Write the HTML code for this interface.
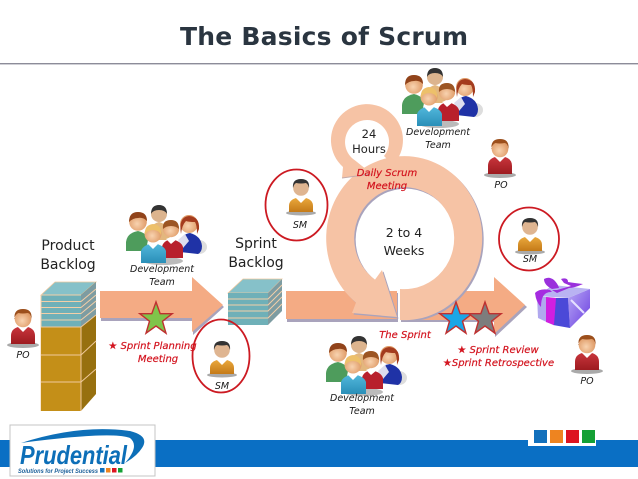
<!DOCTYPE html>
<html><head><meta charset="utf-8"><style>
html,body{margin:0;padding:0;background:#fff}
svg{display:block}
text{font-family:"DejaVu Sans","Liberation Sans",sans-serif}
.k{font-size:14px;fill:#222;text-anchor:middle}
.i{font-size:9.500px;font-style:italic;fill:#1a1a1a;text-anchor:middle}
.r{font-size:10px;font-style:italic;fill:#d3141f;stroke:#d3141f;stroke-width:.2px;text-anchor:middle}
</style></head><body>
<svg width="638" height="479" viewBox="0 0 638 479" xmlns="http://www.w3.org/2000/svg">
<defs>
<radialGradient id="sk" cx=".45" cy=".6" r=".7"><stop offset="0" stop-color="#f8d3b0"/><stop offset="1" stop-color="#d98d55"/></radialGradient>
<linearGradient id="rd" x1="0" y1="0" x2="0" y2="1"><stop offset="0" stop-color="#c8353c"/><stop offset="1" stop-color="#9d1b20"/></linearGradient>
<linearGradient id="og" x1="0" y1="0" x2="0" y2="1"><stop offset="0" stop-color="#eaa83c"/><stop offset="1" stop-color="#c47a18"/></linearGradient>
<linearGradient id="gf" x1="0" y1="0" x2="1" y2="1"><stop offset="0" stop-color="#b9a8f5"/><stop offset="1" stop-color="#6a3fe0"/></linearGradient>
<linearGradient id="tm" x1="0" y1="0" x2="0" y2="1"><stop offset="0" stop-color="#53b9dd"/><stop offset="1" stop-color="#2a8fb8"/></linearGradient>
<g id="po">
<ellipse cx="23" cy="345" rx="16" ry="3" fill="#aaa"/>
<path d="M11 344v-8q0-7 7-9l5 4 5-4q7 2 7 9v8z" fill="url(#rd)"/>
<path d="M18 327l5 5 5-5-5-2z" fill="#fff"/>
<circle cx="23" cy="319" r="8.300" fill="url(#sk)"/>
<path d="M14.500 319q-1-10 8.500-10 9.500 0 8.500 10-1-6-4-6-5 1-9 0-3 1-4.500 6z" fill="#9c4f1c"/>
</g>
<g id="sm">
<ellipse cx="222" cy="375" rx="15" ry="2.500" fill="#aaa"/>
<path d="M210 374v-6q0-6 7-8l5 4 5-4q7 2 7 8v6z" fill="url(#og)"/>
<path d="M217 360l5 5 5-5-5-2z" fill="#fff"/>
<circle cx="222" cy="350" r="7.800" fill="#dfb591"/>
<path d="M214 350q-1-9 8-9 9 0 8 9-1-4-3-5-5 1-10 0-2 1-3 5z" fill="#333"/>
</g>
<g id="team">
<ellipse cx="163" cy="261" rx="20" ry="4" fill="#bbb"/>
<ellipse cx="199" cy="247" rx="8" ry="7" fill="#ddd"/>
<circle cx="159" cy="214" r="8" fill="#dcb48e"/>
<path d="M151 214q0-9 8-9 8 0 8 9-2-4-8-4-6 0-8 4z" fill="#333"/>
<path d="M148 240q1-16 11-18 10 2 11 18z" fill="#e3b77e"/>
<path d="M126 251v-9q1-9 12-11 9 2 10 9l-2 11z" fill="#4e9c5c"/>
<circle cx="138" cy="222" r="8.800" fill="url(#sk)"/>
<path d="M129 222q0-10 9-10 9 0 9 9-4-4-9-3-5 0-9 4z" fill="#91431a"/>
<path d="M180 252v-10q2-8 10-9 11 3 12 13 0 6-4 8z" fill="#1f32a6"/>
<path d="M178 240l7-6 4 7-6 7z" fill="#dde"/>
<circle cx="189" cy="224" r="9" fill="url(#sk)"/>
<path d="M181 234q-3-17 8-18 11 1 10 13l-2 5q0-9-2-12-6 0-9-1-4 4-5 13z" fill="#a43c1e"/>
<path d="M162 258v-11q1-6 9-8 10 2 12 8v11z" fill="#b8202c"/>
<path d="M166 239l5 5 6-5-6-2z" fill="#fff"/>
<circle cx="171" cy="229" r="8.200" fill="url(#sk)"/>
<path d="M163 229q-1-9 8-9 8 0 8 9-3-3-8-3-5 0-8 3z" fill="#9c5523"/>
<path d="M141 263v-12q2-6 12-8 11 2 13 8v12z" fill="url(#tm)"/>
<path d="M147 243l6 6 6-6-6-2z" fill="#fff"/>
<circle cx="153" cy="234" r="8.500" fill="url(#sk)"/>
<path d="M145 235q-1-10 8-11 9 1 8 11-2-5-8-5-6 0-8 5z" fill="#edc06a"/>
</g>
<g id="st"><polygon points="0,-17 4.200,-5.300 16.200,-5.300 6.500,2.200 10,14.200 0,7 -10,14.200 -6.500,2.200 -16.200,-5.300 -4.200,-5.300" stroke="#bf3030" stroke-width="1.400"/></g>
</defs>

<text x="324" y="45" font-size="25" font-weight="bold" fill="#2a3540" text-anchor="middle" textLength="288" lengthAdjust="spacing">The Basics of Scrum</text>
<rect x="0" y="63" width="638" height="1.400" fill="#8c8c99"/>

<!-- arrow 1 -->
<polygon points="101,293 193,293 193,279 224,307 193,335 193,321 101,321" fill="#a9a3bc"/>
<polygon points="100,291 192,291 192,277 223,305 192,332 192,318 100,318" fill="#f4ab84"/>

<!-- arrow 2 -->
<polygon points="287,293 398,293 398,322 287,322" fill="#a9a3bc"/>
<rect x="286" y="291" width="111" height="28" fill="#f4ab84"/>
<polygon points="401,293 495,293 495,279 527,307 495,337 495,322 401,322" fill="#a9a3bc"/>
<polygon points="400,291 494,291 494,277 525,305 494,334 494,320 400,320" fill="#f4ab84"/>

<!-- big ring -->
<path id="bigr" d="M400 320A78 82 0 1 0 356 302.600L352 313 397 317 382 270 375 279.600A50 51 0 1 1 400 289z" fill="#a9a3bc" transform="translate(1.500,1.500)"/>
<path d="M400 320A78 82 0 1 0 356 302.600L352 313 397 317 382 270 375 279.600A50 51 0 1 1 400 289z" fill="#f6c3a5"/>

<!-- small ring -->
<path d="M393 165A36 36 0 1 0 343 167L342 178 372 174 355 160.400A22 22 0 1 1 384 156z" fill="#f6c3a5"/>
<path d="M342 178L372 174" stroke="#c4abab" stroke-width="1" fill="none"/>

<!-- product backlog -->
<polygon points="41,295 55,282 96,282 81,295" fill="#86c1c9" stroke="#f0c79d" stroke-width=".8"/>
<polygon points="81,295 96,282 96,394 81,411" fill="#97700f"/>
<polygon points="81,295 96,282 96,315 81,327" fill="#7d9ca2"/>
<rect x="41" y="295" width="40" height="32" fill="#6fb0b8"/>
<g stroke="#f3cfa8" stroke-width="1" fill="none">
<path d="M41 301.500H81L96 289M41 307.500H81L96 295M41 313.500H81L96 301M41 320H81L96 308M41 295H81M41 295V411"/>
</g>
<rect x="41" y="327" width="40" height="84" fill="#c48f18"/>
<g stroke="#f0c99b" stroke-width="1" fill="none"><path d="M41 327H81V411M41 355H81L96 341M41 382H81L96 369M81 327L96 315"/></g>

<!-- sprint backlog -->
<polygon points="228,293 243,279 282,279 268,293" fill="#86c1c9" stroke="#f0c79d" stroke-width=".8"/>
<polygon points="268,293 282,279 282,311 268,325" fill="#7d9ca2"/>
<rect x="228" y="293" width="40" height="32" fill="#6fb0b8"/>
<g stroke="#f3cfa8" stroke-width="1" fill="none"><path d="M228 299H268L282 285M228 305H268L282 291M228 311H268L282 297M228 318H268L282 304"/></g>

<!-- stars -->
<use href="#st" x="156" y="319" fill="#7fc44a"/>
<use href="#st" x="456" y="319" fill="#1aa6e6"/>
<use href="#st" x="485" y="319" fill="#7d7d7d"/>

<!-- teams -->
<use href="#team"/>
<use href="#team" x="276" y="-137"/>
<use href="#team" x="200" y="131"/>

<!-- PO -->
<use href="#po"/>
<use href="#po" x="477" y="-170"/>
<use href="#po" x="564" y="26"/>

<!-- SM -->
<use href="#sm"/>
<use href="#sm" x="79" y="-162"/>
<use href="#sm" x="308" y="-123"/>
<ellipse cx="221" cy="356" rx="28.500" ry="36.500" fill="none" stroke="#cc1a22" stroke-width="1.800"/>
<ellipse cx="296.500" cy="205" rx="31" ry="35.500" fill="none" stroke="#cc1a22" stroke-width="1.800"/>
<ellipse cx="529" cy="239" rx="30" ry="31.500" fill="none" stroke="#cc1a22" stroke-width="1.800"/>

<!-- gift -->
<polygon points="537,296 555,298 553,325 538,318" fill="#b0a8ee"/>
<polygon points="568,298 590,289 590,308 570,328" fill="url(#gf)"/>
<polygon points="555,298 568,298 570,328 553,325" fill="#4b49d8"/>
<polygon points="546,297 556,298 554,325 546,322" fill="#d01fe0"/>
<polygon points="537,296 553,285 590,289 568,298" fill="#b9b3f2"/>
<path d="M571 300l13 13" stroke="#e5e0ff" stroke-width="2"/>
<path d="M552 292Q541 291 541 307 536 302 535 293 540 288 550 290z" fill="#a52ce0"/>
<path d="M552 289Q544 285 544 279 549 276 554 280 558 284 559 288zM552 290l5 0 14-4 -7-3 -3-4q7-2 7 3 6 1 15 2-9 4-14 4l-12 5z" fill="#9a30dc"/>

<!-- black text -->
<text class="k" x="68" y="250">Product</text>
<text class="k" x="68" y="269">Backlog</text>
<text class="k" x="256" y="248">Sprint</text>
<text class="k" x="256" y="267">Backlog</text>
<text class="k" style="font-size:11.500px" x="369" y="138">24</text>
<text class="k" style="font-size:11.500px" x="369" y="153">Hours</text>
<text class="k" style="font-size:12.500px" x="404" y="237">2 to 4</text>
<text class="k" style="font-size:12.500px" x="404" y="255">Weeks</text>
<text class="i" x="162" y="272">Development</text><text class="i" x="162" y="285">Team</text>
<text class="i" x="438" y="135">Development</text><text class="i" x="438" y="148">Team</text>
<text class="i" x="362" y="401">Development</text><text class="i" x="362" y="414">Team</text>
<text class="i" x="23" y="358">PO</text>
<text class="i" x="501" y="188">PO</text>
<text class="i" x="587" y="384">PO</text>
<text class="i" x="222" y="389">SM</text>
<text class="i" x="300" y="228">SM</text>
<text class="i" x="530" y="262">SM</text>

<!-- red text -->
<text class="r" x="387" y="176">Daily Scrum</text>
<text class="r" x="387" y="189">Meeting</text>
<text class="r" x="152.500" y="349">★ Sprint Planning</text>
<text class="r" x="158" y="362">Meeting</text>
<text class="r" x="405" y="338">The Sprint</text>
<text class="r" x="498" y="353">★ Sprint Review</text>
<text class="r" x="498.500" y="366">★Sprint Retrospective</text>

<!-- footer -->
<rect x="0" y="440" width="638" height="27" fill="#0a6fc4"/>
<rect x="528" y="424" width="68" height="22" fill="#fff"/>
<rect x="534" y="430" width="13" height="13" fill="#1270bc"/>
<rect x="550" y="430" width="13" height="13" fill="#ee8420"/>
<rect x="566" y="430" width="13" height="13" fill="#dd1420"/>
<rect x="582" y="430" width="13" height="13" fill="#14a035"/>
<rect x="10" y="425" width="145" height="51" fill="#fff" stroke="#c4c4c4" stroke-width="1"/>
<path d="M21 443Q80 424 130 431 150 436 142 448 137 456 125 463 140 446 130 438 112 431 21 443z" fill="#0d6fb8"/>
<text x="20" y="464" font-size="26" font-weight="bold" font-style="italic" fill="#0d6fb8" textLength="107" lengthAdjust="spacingAndGlyphs" style="font-family:'Liberation Sans',sans-serif">Prudential</text>
<text x="18" y="473" font-size="6.500" font-weight="bold" font-style="italic" fill="#1b5f99" textLength="80" lengthAdjust="spacingAndGlyphs" style="font-family:'Liberation Sans',sans-serif">Solutions for Project Success</text>
<rect x="100" y="468" width="4.500" height="4.500" fill="#1270bc"/>
<rect x="106" y="468" width="4.500" height="4.500" fill="#ee8420"/>
<rect x="112" y="468" width="4.500" height="4.500" fill="#dd1420"/>
<rect x="118" y="468" width="4.500" height="4.500" fill="#14a035"/>
</svg>
</body></html>
